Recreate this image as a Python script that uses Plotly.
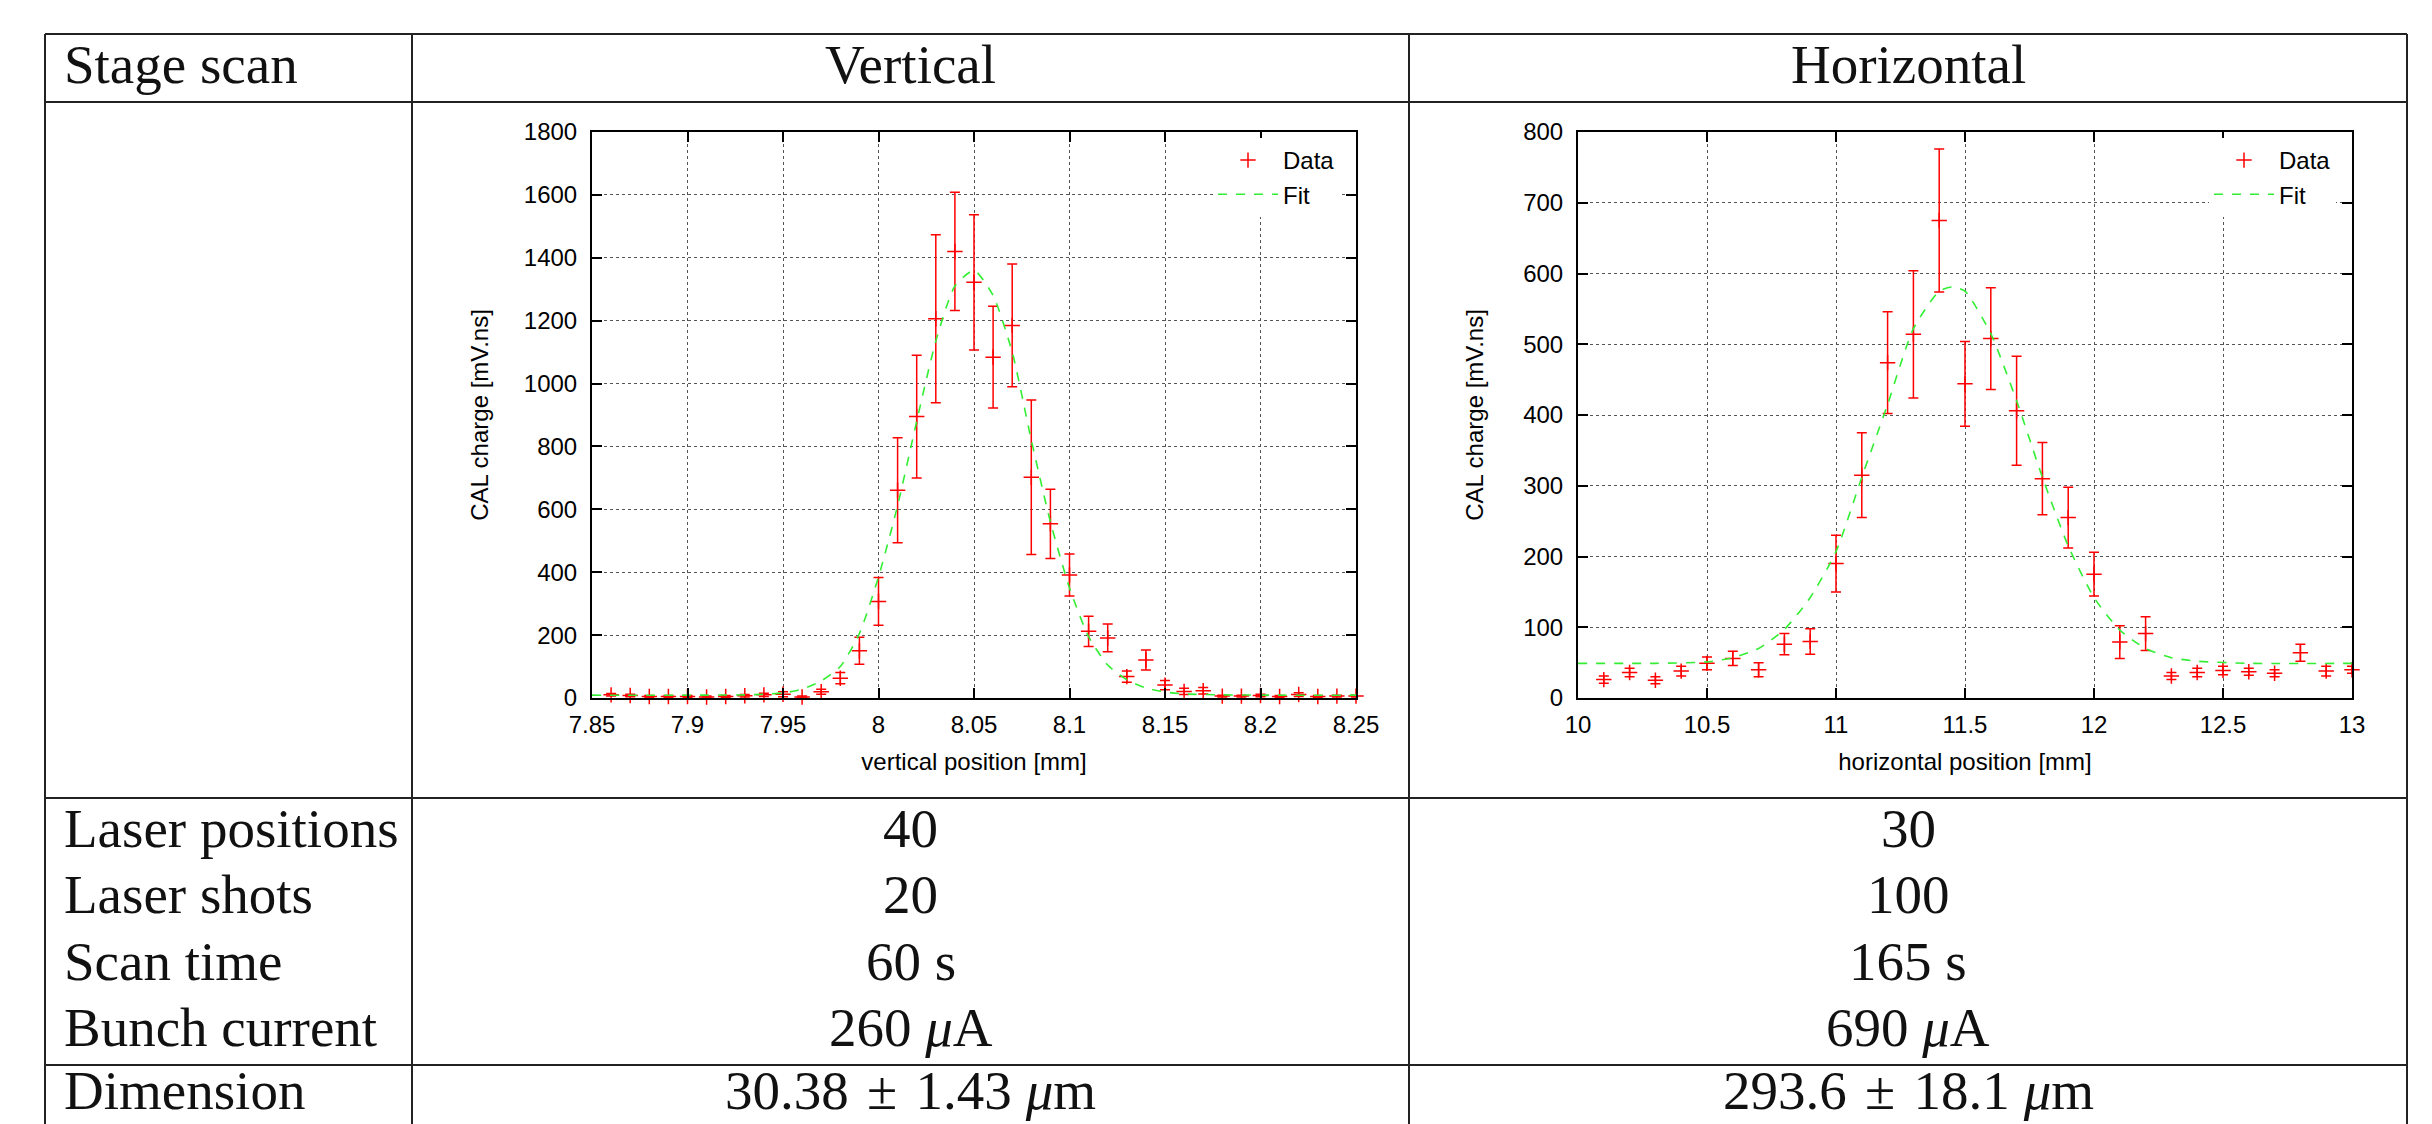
import plotly.graph_objects as go

W, H = 2432, 1124
PAGE_OFF = 8  # the page body adds an 8 px margin


def px(x):
    return (x - PAGE_OFF) / W


def py(y):
    return 1 - (y - PAGE_OFF) / H


# ---------------- data: vertical scan ----------------
vert_pos = [7.86, 7.87, 7.88, 7.89, 7.90, 7.91, 7.92, 7.93, 7.94, 7.95,
            7.96, 7.97, 7.98, 7.99, 8.00, 8.01, 8.02, 8.03, 8.04, 8.05,
            8.06, 8.07, 8.08, 8.09, 8.10, 8.11, 8.12, 8.13, 8.14, 8.15,
            8.16, 8.17, 8.18, 8.19, 8.20, 8.21, 8.22, 8.23, 8.24, 8.25]
vert_charge = [10, 8, 5, 5, 5, 3, 5, 7, 10, 12,
               3, 20, 63, 150, 307, 661, 895, 1206, 1420, 1322,
               1084, 1185, 702, 554, 391, 212, 191, 68, 121, 41,
               21, 23, 6, 6, 8, 5, 11, 5, 6, 6]
vert_err = [4, 4, 3, 3, 3, 3, 3, 4, 5, 8,
            3, 8, 18, 43, 76, 167, 195, 267, 188, 215,
            162, 195, 246, 110, 67, 48, 44, 18, 32, 15,
            10, 10, 3, 3, 4, 3, 6, 3, 3, 3]
vert_fit_pos = [7.85, 7.90, 7.93, 7.94, 7.95, 7.96, 7.97, 7.98, 7.99, 8.00,
                8.01, 8.02, 8.03, 8.04, 8.05, 8.06, 8.07, 8.08, 8.09, 8.10,
                8.11, 8.12, 8.13, 8.14, 8.15, 8.16, 8.18, 8.21, 8.25]
vert_fit = [9, 9, 10, 12, 16, 28, 54, 100, 205, 385,
            612, 880, 1135, 1310, 1360, 1280, 1100, 820, 560, 350,
            195, 105, 58, 32, 19, 13, 10, 9, 9]
vert_xticks = [7.85, 7.9, 7.95, 8.0, 8.05, 8.1, 8.15, 8.2, 8.25]
vert_xticktext = ["7.85", "7.9", "7.95", "8", "8.05", "8.1", "8.15", "8.2", "8.25"]
vert_yticks = [0, 200, 400, 600, 800, 1000, 1200, 1400, 1600, 1800]

# ---------------- data: horizontal scan ----------------
hor_pos = [10.1, 10.2, 10.3, 10.4, 10.5, 10.6, 10.7, 10.8, 10.9, 11.0,
           11.1, 11.2, 11.3, 11.4, 11.5, 11.6, 11.7, 11.8, 11.9, 12.0,
           12.1, 12.2, 12.3, 12.4, 12.5, 12.6, 12.7, 12.8, 12.9, 13.0]
hor_charge = [26, 36, 25, 38, 49, 56, 40, 76, 80, 190,
              315, 474, 514, 675, 444, 508, 406, 310, 255, 175,
              79, 91, 31, 36, 39, 37, 35, 64, 38, 40]
hor_err = [5, 6, 5, 7, 9, 10, 10, 15, 18, 40,
           60, 72, 90, 101, 60, 72, 77, 51, 43, 31,
           23, 24, 5, 6, 6, 5, 5, 12, 7, 5]
hor_fit_pos = [10.0, 10.3, 10.5, 10.6, 10.7, 10.8, 10.9, 11.0, 11.1, 11.2,
               11.3, 11.4, 11.45, 11.5, 11.6, 11.7, 11.8, 11.9, 12.0, 12.1,
               12.2, 12.3, 12.4, 12.6, 13.0]
hor_fit = [49, 49, 51, 57, 70, 97, 142, 207, 312, 415,
           522, 575, 581, 575, 515, 420, 312, 215, 142, 96,
           70, 57, 52, 49, 49]
hor_xticks = [10, 10.5, 11, 11.5, 12, 12.5, 13]
hor_xticktext = ["10", "10.5", "11", "11.5", "12", "12.5", "13"]
hor_yticks = [0, 100, 200, 300, 400, 500, 600, 700, 800]

# ---------------- table text ----------------
header = ["Stage scan", "Vertical", "Horizontal"]
row_labels = ["Laser positions", "Laser shots", "Scan time", "Bunch current", "Dimension"]
vert_values = ["40", "20", "60 s", "260 <i>μ</i>A", "30.38\u2004±\u20041.43 <i>μ</i>m"]
hor_values = ["30", "100", "165 s", "690 <i>μ</i>A", "293.6\u2004±\u200418.1 <i>μ</i>m"]

SANS = "Liberation Sans, Arial, Helvetica, sans-serif"
SERIF = "Liberation Serif, Times New Roman, serif"
RED = "#ff0000"
GREEN = "#33ee33"

fig = go.Figure()

fig.add_trace(go.Scatter(
    x=vert_pos, y=vert_charge, mode="markers", name="Data",
    error_y=dict(type="data", array=vert_err, color=RED, thickness=1.5, width=5),
    marker=dict(symbol="cross-thin", size=11, color=RED, line=dict(color=RED, width=1.5)),
    xaxis="x", yaxis="y", legend="legend", cliponaxis=False))
fig.add_trace(go.Scatter(
    x=vert_fit_pos, y=vert_fit, mode="lines", name="Fit",
    line=dict(color=GREEN, width=1.6, dash="dash", shape="spline", smoothing=0.6),
    xaxis="x", yaxis="y", legend="legend"))

fig.add_trace(go.Scatter(
    x=hor_pos, y=hor_charge, mode="markers", name="Data",
    error_y=dict(type="data", array=hor_err, color=RED, thickness=1.5, width=5),
    marker=dict(symbol="cross-thin", size=11, color=RED, line=dict(color=RED, width=1.5)),
    xaxis="x2", yaxis="y2", legend="legend2", cliponaxis=False))
fig.add_trace(go.Scatter(
    x=hor_fit_pos, y=hor_fit, mode="lines", name="Fit",
    line=dict(color=GREEN, width=1.6, dash="dash", shape="spline", smoothing=0.6),
    xaxis="x2", yaxis="y2", legend="legend2"))

axis_common = dict(
    showline=True, linecolor="black", linewidth=2, mirror="allticks",
    ticks="inside", ticklen=10, tickwidth=2, tickcolor="black",
    showgrid=True, gridcolor="#555555", gridwidth=1, griddash="dot",
    zeroline=False, automargin=False,
    tickfont=dict(family=SANS, size=24, color="black"),
)
title_font = dict(family=SANS, size=24, color="black")

L1, R1 = 592, 1356
L2, R2 = 1578, 2352
TOP, BOT = 132, 698

legend_style = dict(xanchor="right", yanchor="top", bgcolor="white",
                    font=dict(family=SANS, size=24, color="black"),
                    itemwidth=60, tracegroupgap=0)

fig.update_layout(
    width=W, height=H, autosize=False,
    margin=dict(l=0, r=0, t=0, b=0, pad=0, autoexpand=False),
    paper_bgcolor="white", plot_bgcolor="white",
    xaxis=dict(axis_common, domain=[px(L1), px(R1)], anchor="y", ticklabelstandoff=4,
               range=[7.85, 8.25], tickvals=vert_xticks, ticktext=vert_xticktext,
               title=dict(text="vertical position [mm]", font=title_font, standoff=16)),
    yaxis=dict(axis_common, domain=[py(BOT), py(TOP)], anchor="x", ticklabelstandoff=8,
               range=[0, 1800], tickvals=vert_yticks,
               title=dict(text="CAL charge [mV.ns]", font=title_font, standoff=28)),
    xaxis2=dict(axis_common, domain=[px(L2), px(R2)], anchor="y2", ticklabelstandoff=4,
                range=[10, 13], tickvals=hor_xticks, ticktext=hor_xticktext,
                title=dict(text="horizontal position [mm]", font=title_font, standoff=16)),
    yaxis2=dict(axis_common, domain=[py(BOT), py(TOP)], anchor="x2", ticklabelstandoff=8,
                range=[0, 800], tickvals=hor_yticks,
                title=dict(text="CAL charge [mV.ns]", font=title_font, standoff=33)),
    legend=dict(legend_style, x=px(1340), y=py(138)),
    legend2=dict(legend_style, x=px(2336), y=py(138)),
)

LINE = dict(color="#222222", width=2)
col_x = [45, 412, 1409, 2407]
row_y = [34, 102, 798, 1065]
shapes = []
for y in row_y:
    shapes.append(dict(type="line", xref="paper", yref="paper",
                       x0=px(col_x[0]), x1=px(col_x[-1]), y0=py(y), y1=py(y), line=LINE))
for x in col_x:
    shapes.append(dict(type="line", xref="paper", yref="paper",
                       x0=px(x), x1=px(x), y0=py(row_y[0]), y1=py(H + 4), line=LINE))
fig.update_layout(shapes=shapes)

FS = 55
off = 0.32 * FS
anns = []
col2_c = (col_x[1] + col_x[2]) / 2
col3_c = (col_x[2] + col_x[3]) / 2
header_base = 82
anns.append(dict(text=header[0], x=px(62), y=py(header_base - off), xanchor="left"))
anns.append(dict(text=header[1], x=px(col2_c), y=py(header_base - off), xanchor="center"))
anns.append(dict(text=header[2], x=px(col3_c), y=py(header_base - off), xanchor="center"))
baselines = [846, 912, 979, 1045, 1108]
for lab, v1, v2, b in zip(row_labels, vert_values, hor_values, baselines):
    anns.append(dict(text=lab, x=px(62), y=py(b - off), xanchor="left"))
    anns.append(dict(text=v1, x=px(col2_c), y=py(b - off), xanchor="center"))
    anns.append(dict(text=v2, x=px(col3_c), y=py(b - off), xanchor="center"))
for a in anns:
    a.update(xref="paper", yref="paper", yanchor="middle", showarrow=False,
             font=dict(family=SERIF, size=FS, color="#111111"))
fig.update_layout(annotations=anns)

fig.write_html("out.html")
